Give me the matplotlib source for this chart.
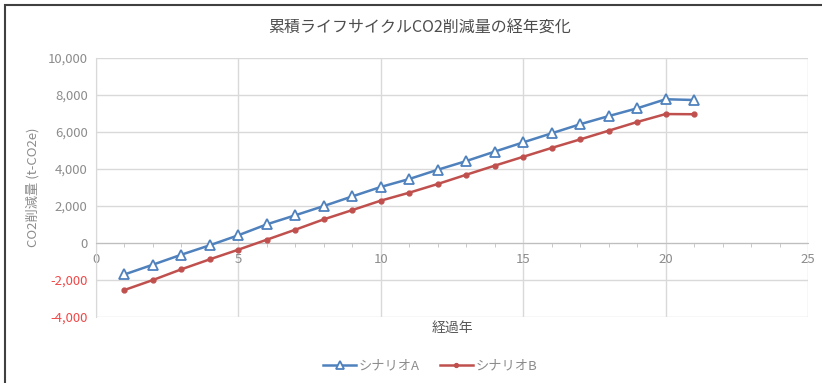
import matplotlib
matplotlib.use('Agg')
import matplotlib.pyplot as plt
from matplotlib.patches import Rectangle
from matplotlib.ticker import FuncFormatter, MultipleLocator

plt.rcParams['font.family'] = ['Noto Sans CJK JP', 'DejaVu Sans']

# data
years = list(range(1, 22))
scenario_a = [-1700, -1170, -630, -120, 420, 1010, 1500, 2000, 2520, 3030,
              3460, 3960, 4430, 4940, 5440, 5930, 6420, 6860, 7280, 7770, 7730]
scenario_b = [-2540, -2000, -1420, -880, -360, 180, 720, 1280, 1780, 2290,
              2720, 3190, 3690, 4180, 4660, 5140, 5600, 6070, 6540, 6970, 6960]

title = '累積ライフサイクルCO2削減量の経年変化'
ylab = 'CO2削減量 (t-CO2e)'
xlab = '経過年'

gray = '#8c8c8c'
grid_c = '#d9d9d9'

fig = plt.figure(figsize=(8.22, 3.83), dpi=100)
ax = fig.add_axes([96/822, 1-317/383, (808-96)/822, (317-58)/383])

ax.plot(years, scenario_a, color='#4f81bd', lw=1.8, marker='^', ms=7,
        mfc='white', mec='#4f81bd', mew=1.3, label='シナリオA', zorder=3)
ax.plot(years, scenario_b, color='#c0504d', lw=1.8, marker='o', ms=3.5,
        mfc='#c0504d', mec='#c0504d', label='シナリオB', zorder=3)

ax.set_xlim(0, 25)
ax.set_ylim(-4000, 10000)
ax.xaxis.set_major_locator(MultipleLocator(5))
ax.xaxis.set_minor_locator(MultipleLocator(1))
ax.yaxis.set_major_locator(MultipleLocator(2000))
ax.yaxis.set_major_formatter(FuncFormatter(lambda v, p: f'{int(v):,}'))
ax.grid(True, which='major', color=grid_c, lw=1)
ax.set_axisbelow(True)

for s in ['top', 'right']:
    ax.spines[s].set_visible(False)
ax.spines['left'].set_color(grid_c)
ax.spines['bottom'].set_position(('data', 0))
ax.spines['bottom'].set_color('#bfbfbf')
ax.tick_params(axis='x', which='major', length=0, colors=gray, labelsize=9.5, pad=7)
ax.tick_params(axis='x', which='minor', length=3, color='#bfbfbf', direction='out')
ax.tick_params(axis='y', length=0, colors=gray, labelsize=9.5, pad=6)
for lbl, v in zip(ax.get_yticklabels(), ax.get_yticks()):
    if v < 0:
        lbl.set_color('#f04848')

ax.set_ylabel(ylab, color=gray, fontsize=9.5, labelpad=6)
fig.text(452/822, 1-328/383, xlab, ha='center', va='center', color='#595959', fontsize=10)
fig.text(420/822, 1-28/383, title, ha='center', va='center', color='#4d4d4d', fontsize=11.5)

leg = fig.legend(loc='center', bbox_to_anchor=(430/822, 1-366/383), ncol=2, frameon=False,
                 fontsize=9.5, handlelength=2.5, columnspacing=1.5, handletextpad=0.2,
                 markerscale=0.8)
for t in leg.get_texts():
    t.set_color(gray)

# screenshot frame on left and top
fig.patches.append(Rectangle((5/822, -0.1), 1.2, 1.1 - 5/383, transform=fig.transFigure,
                             fill=False, edgecolor='#404040', lw=1.5))

fig.savefig('out.png', dpi=100)
